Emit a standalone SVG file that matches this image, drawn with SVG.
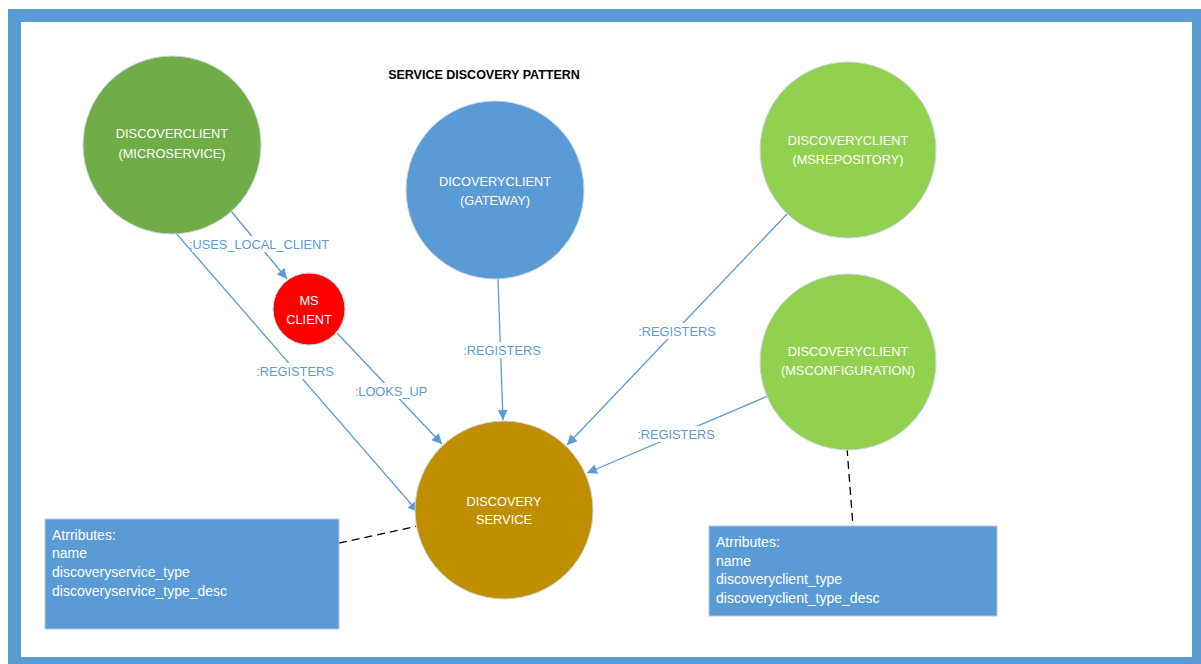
<svg xmlns="http://www.w3.org/2000/svg" width="1201" height="664" viewBox="0 0 1201 664">
  <style>
    .node { stroke: #c9d6e3; stroke-width: 1; }
    .ntext { font-family: "Liberation Sans", Arial, sans-serif; font-size: 12.8px; fill: #ffffff; text-anchor: middle; }
    .edge { stroke: #5b9bd5; stroke-width: 1.3; fill: none; }
    .elabel { font-family: "Liberation Sans", Arial, sans-serif; font-size: 12.8px; fill: #5b9bd5; text-anchor: middle; }
    .lblbg { fill: #ffffff; }
    .assoc { stroke: #000000; stroke-width: 1.3; stroke-dasharray: 8 5; fill: none; }
    .attr { fill: #5b9bd5; stroke: #b4c7dc; stroke-width: 1; }
    .atext { font-family: "Liberation Sans", Arial, sans-serif; font-size: 14px; fill: #ffffff; }
    .title { font-family: "Liberation Sans", Arial, sans-serif; font-size: 12.5px; font-weight: bold; fill: #000000; text-anchor: middle; }
  </style>
  <defs>
    <marker id="arrow" viewBox="0 0 10 10" refX="10" refY="5" markerWidth="11" markerHeight="10" markerUnits="userSpaceOnUse" orient="auto">
      <path d="M0,0 L10,5 L0,10 z" fill="#5b9bd5"/>
    </marker>
  </defs>

  <rect x="0" y="0" width="1201" height="664" fill="#ffffff"/>
  <!-- frame -->
  <rect x="14.5" y="15.5" width="1184" height="648" fill="#ffffff" stroke="#5b9bd5" stroke-width="13"/>

  <text class="title" x="484" y="79">SERVICE DISCOVERY PATTERN</text>

  <!-- connectors -->
  <g id="connectors">
    <line class="edge" x1="231" y1="211" x2="287" y2="279" marker-end="url(#arrow)"/>
    <line class="edge" x1="175" y1="232" x2="418" y2="512" marker-end="url(#arrow)"/>
    <line class="edge" x1="337" y1="333" x2="442" y2="444" marker-end="url(#arrow)"/>
    <line class="edge" x1="498" y1="279" x2="503" y2="420" marker-end="url(#arrow)"/>
    <line class="edge" x1="787" y1="214" x2="567" y2="445" marker-end="url(#arrow)"/>
    <line class="edge" x1="768" y1="396" x2="587" y2="473" marker-end="url(#arrow)"/>

    <line class="assoc" x1="339" y1="543" x2="418" y2="526"/>
    <line class="assoc" x1="847" y1="448" x2="853" y2="526"/>

    <rect class="lblbg" x="192" y="236" width="135" height="16"/>
    <text class="elabel" x="259" y="249">:USES_LOCAL_CLIENT</text>
    <rect class="lblbg" x="255" y="363" width="80" height="16"/>
    <text class="elabel" x="295" y="376">:REGISTERS</text>
    <rect class="lblbg" x="353" y="383" width="76" height="16"/>
    <text class="elabel" x="391" y="396">:LOOKS_UP</text>
    <rect class="lblbg" x="463" y="342" width="78" height="16"/>
    <text class="elabel" x="502" y="355">:REGISTERS</text>
    <rect class="lblbg" x="639" y="323" width="77" height="16"/>
    <text class="elabel" x="677" y="336">:REGISTERS</text>
    <rect class="lblbg" x="638" y="426" width="77" height="16"/>
    <text class="elabel" x="676" y="439">:REGISTERS</text>
  </g>

  <!-- nodes -->
  <g id="microservice">
    <circle class="node" cx="172" cy="145" r="89" fill="#70ad47"/>
    <text class="ntext" x="172" y="138">DISCOVERCLIENT</text>
    <text class="ntext" x="172" y="158">(MICROSERVICE)</text>
  </g>
  <g id="gateway">
    <circle class="node" cx="495" cy="190" r="89" fill="#5b9bd5"/>
    <text class="ntext" x="495" y="186">DICOVERYCLIENT</text>
    <text class="ntext" x="495" y="205">(GATEWAY)</text>
  </g>
  <g id="msrepository">
    <circle class="node" cx="848" cy="150" r="88" fill="#92d050"/>
    <text class="ntext" x="848" y="145">DISCOVERYCLIENT</text>
    <text class="ntext" x="848" y="164">(MSREPOSITORY)</text>
  </g>
  <g id="msconfiguration">
    <circle class="node" cx="848" cy="362" r="88" fill="#92d050"/>
    <text class="ntext" x="848" y="356">DISCOVERYCLIENT</text>
    <text class="ntext" x="848" y="375">(MSCONFIGURATION)</text>
  </g>
  <g id="msclient">
    <circle class="node" cx="309" cy="309" r="36" fill="#ff0000"/>
    <text class="ntext" x="309" y="305">MS</text>
    <text class="ntext" x="309" y="324">CLIENT</text>
  </g>
  <g id="discoveryservice">
    <circle class="node" cx="504" cy="510" r="89" fill="#bf8f00"/>
    <text class="ntext" x="504" y="506">DISCOVERY</text>
    <text class="ntext" x="504" y="524">SERVICE</text>
  </g>

  <g id="service-attributes">
    <rect class="attr" x="45" y="519" width="294" height="110"/>
    <text class="atext" x="52" y="540">Atrributes:</text>
    <text class="atext" x="52" y="558">name</text>
    <text class="atext" x="52" y="577">discoveryservice_type</text>
    <text class="atext" x="52" y="596">discoveryservice_type_desc</text>
  </g>
  <g id="client-attributes">
    <rect class="attr" x="709" y="526" width="288" height="90"/>
    <text class="atext" x="716" y="547">Atrributes:</text>
    <text class="atext" x="716" y="566">name</text>
    <text class="atext" x="716" y="584">discoveryclient_type</text>
    <text class="atext" x="716" y="603">discoveryclient_type_desc</text>
  </g>
</svg>
